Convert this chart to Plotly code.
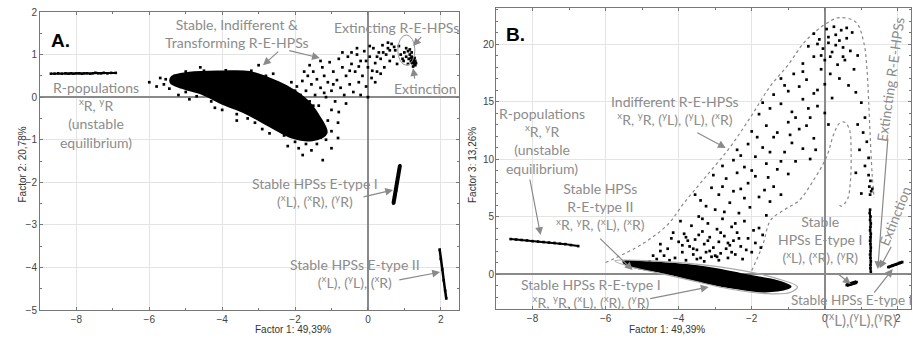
import plotly.graph_objects as go

# ---------------- Panel A data (Factor 1 vs Factor 2) ----------------
a_rpop_x = [-8.7, -8.6, -8.5, -8.4, -8.3, -8.22, -8.15, -8.08, -8.0, -7.92, -7.85, -7.78, -7.7,
            -7.62, -7.55, -7.48, -7.4, -7.32, -7.25, -7.15, -7.05, -6.92]
a_rpop_y = [0.55, 0.55, 0.56, 0.55, 0.56, 0.55, 0.56, 0.55, 0.56, 0.56, 0.55, 0.56, 0.56,
            0.55, 0.56, 0.57, 0.56, 0.56, 0.57, 0.56, 0.57, 0.57]

a_blob_x = [-5.37, -4.9, -4.0, -3.26, -2.63, -2.16, -1.70, -1.34, -1.15, -1.53, -2.08, -2.63,
            -3.34, -4.0, -4.55, -5.1, -5.4]
a_blob_y = [0.47, 0.56, 0.59, 0.58, 0.40, 0.21, -0.07, -0.47, -0.84, -1.0, -0.94, -0.70,
            -0.37, -0.14, 0.09, 0.23, 0.35]

a_edge = [(-5.55, 0.42), (-5.45, 0.2), (-5.3, 0.5), (-5.6, 0.3), (-5.0, 0.6), (-4.5, 0.62),
          (-3.9, 0.63), (-3.2, 0.62), (-2.8, 0.5), (-2.0, 0.15), (-1.5, -0.2), (-1.1, -0.55),
          (-1.0, -0.8), (-1.15, -1.0), (-1.4, -1.1), (-1.7, -1.1), (-2.0, -1.05), (-2.3, -0.9),
          (-2.7, -0.85), (-3.1, -0.6), (-3.6, -0.4), (-4.0, -0.3), (-4.3, -0.1), (-4.7, 0.02),
          (-5.0, 0.12), (-6.0, 0.35), (-5.8, 0.25), (-1.79, -1.36), (-1.24, -1.48),
          (-0.82, -0.96), (-0.82, -0.6), (-2.2, -1.15), (-1.55, -1.25), (-3.6, -0.55),
          (-1.0, -1.2), (-2.6, 0.55), (-4.6, 0.7), (-5.7, 0.45), (-3.0, 0.75), (-4.2, -0.25),
          (-3.3, -0.5), (-2.9, -0.75), (-1.9, -1.2), (-1.3, -0.95), (-5.2, 0.05), (-4.9, -0.05)]

a_cloud = [(-1.95, 0.25), (-1.85, 0.05), (-1.8, 0.38), (-1.7, 0.15), (-1.65, 0.5), (-1.6, -0.1),
           (-1.55, 0.3), (-1.5, 0.6), (-1.45, 0.05), (-1.4, 0.42), (-1.35, -0.2), (-1.3, 0.22),
           (-1.25, 0.7), (-1.2, 0.5), (-1.15, 0.0), (-1.1, 0.35), (-1.05, 0.82), (-1.0, 0.15),
           (-0.95, 0.6), (-0.9, -0.1), (-0.85, 0.4), (-0.8, 0.9), (-0.75, 0.22), (-0.7, 0.7),
           (-0.65, 0.05), (-0.6, 0.5), (-0.55, 0.95), (-0.5, 0.3), (-0.45, 0.78), (-0.4, 0.12),
           (-0.35, 0.6), (-0.3, 1.0), (-0.25, 0.35), (-0.2, 0.85), (-0.15, 0.5), (-0.1, 1.08),
           (-0.05, 0.25), (0.0, 0.7), (0.05, 0.95), (0.1, 0.45), (0.15, 1.15), (0.2, 0.8),
           (0.25, 0.6), (0.3, 1.05), (0.35, 0.9), (0.4, 1.22), (0.45, 0.7), (0.5, 1.0),
           (0.55, 1.15), (0.6, 0.85), (0.65, 1.25), (0.7, 0.95), (0.75, 1.1), (0.8, 0.78),
           (0.85, 1.2), (0.9, 1.0), (-1.6, 0.75), (-1.0, -0.3), (-0.6, -0.15), (-0.2, 0.05),
           (0.2, 0.35), (-2.1, 0.35), (-0.45, 1.05), (0.05, 1.2), (0.55, 1.28), (-1.3, 0.85),
           (-0.7, 1.05), (-0.8, -0.35), (0.0, 0.0), (0.95, 0.9), (-0.3, 1.15), (0.35, 0.55),
           (-0.05, 0.85), (0.6, 1.1), (0.25, 0.95), (-1.75, 0.6), (-1.2, 0.1), (-0.95, 0.3),
           (-0.5, 0.62), (0.12, 0.62), (0.42, 1.05), (0.72, 1.18), (-0.25, 0.72)]

a_ext = [(1.0, 1.05), (1.05, 0.95), (1.1, 1.08), (1.12, 0.9), (1.15, 1.0), (1.18, 0.85),
         (1.2, 0.95), (1.22, 0.8), (1.25, 0.9), (1.27, 0.82), (1.28, 0.78), (1.3, 0.85),
         (1.32, 0.8), (1.2, 1.05), (1.1, 0.78), (1.24, 0.72), (1.15, 1.12), (1.05, 1.15),
         (0.98, 0.85), (1.3, 0.75), (1.26, 0.86), (1.22, 0.88), (1.18, 0.92), (1.28, 0.92),
         (1.2, 0.82)]

a_e1_x = [0.88, 0.86, 0.84, 0.82, 0.80, 0.79, 0.77, 0.75, 0.73, 0.70]
a_e1_y = [-1.6, -1.7, -1.8, -1.9, -2.0, -2.1, -2.2, -2.3, -2.4, -2.5]
a_e2_x = [1.97, 2.0, 2.04, 2.08, 2.12, 2.15]
a_e2_y = [-3.58, -3.8, -4.05, -4.3, -4.55, -4.73]

# ---------------- Panel B data (Factor 1 vs Factor 3) ----------------
b_rpop_x = [-8.6, -8.45, -8.3, -8.15, -8.0, -7.85, -7.7, -7.55, -7.4, -7.25, -7.1, -6.95, -6.75]
b_rpop_y = [3.04, 3.0, 2.96, 2.92, 2.86, 2.82, 2.78, 2.74, 2.7, 2.64, 2.6, 2.52, 2.43]

b_blob_x = [-5.5, -5.0, -4.4, -3.65, -3.0, -2.29, -1.8, -1.37, -0.95, -1.3, -1.83, -2.5,
            -3.19, -3.8, -4.36, -5.28]
b_blob_y = [1.05, 1.0, 0.9, 0.7, 0.4, -0.05, -0.35, -0.6, -1.1, -1.4, -1.45, -1.15,
            -0.75, -0.3, 0.15, 0.7]

b_contour_x = [-5.75, -4.5, -3.2, -2.0, -1.3, -0.75, -0.95, -1.6, -2.6, -3.6, -4.5, -5.4, -5.75]
b_contour_y = [1.15, 1.1, 0.75, 0.15, -0.4, -1.1, -1.6, -1.7, -1.3, -0.6, 0.05, 0.7, 1.15]

b_cloud = [(-4.6, 1.3), (-4.4, 1.6), (-4.3, 2.2), (-4.1, 1.4), (-4.0, 2.8), (-3.9, 1.9),
           (-3.85, 3.5), (-3.8, 1.2), (-3.7, 2.4), (-3.65, 4.2), (-3.6, 1.7), (-3.55, 3.0),
           (-3.5, 2.1), (-3.45, 5.0), (-3.4, 1.4), (-3.35, 3.7), (-3.3, 2.6), (-3.25, 1.9),
           (-3.2, 4.4), (-3.15, 3.2), (-3.1, 1.5), (-3.05, 2.3), (-3.0, 5.6), (-2.95, 3.9),
           (-2.9, 2.8), (-2.85, 1.8), (-2.8, 4.8), (-2.75, 3.3), (-2.7, 2.2), (-2.65, 1.4),
           (-2.6, 6.2), (-2.55, 4.1), (-2.5, 2.9), (-2.45, 1.7), (-2.4, 3.6), (-2.35, 5.3),
           (-2.3, 2.4), (-2.25, 1.3), (-2.2, 4.6), (-2.1, 3.1), (-2.0, 1.9), (-1.9, 2.7),
           (-1.8, 4.0), (-1.7, 3.4), (-1.6, 5.1), (-3.75, 2.9), (-3.3, 1.1), (-2.9, 1.2),
           (-3.9, 2.5), (-4.2, 3.1), (-2.2, 6.6), (-3.4, 6.4), (-2.9, 6.9), (-3.1, 7.5),
           (-2.5, 7.2), (-2.1, 7.9), (-1.8, 6.7), (-1.5, 6.3), (-2.7, 8.3), (-3.05, 8.6),
           (-2.4, 8.8), (-1.9, 8.5), (-1.4, 7.6), (-1.2, 6.9), (-3.5, 1.3), (-3.0, 1.6),
           (-2.6, 2.5), (-3.2, 2.9), (-4.8, 1.1), (-4.5, 2.0), (-2.8, 9.4), (-2.5, 9.9),
           (-2.2, 9.3), (-1.9, 10.2), (-1.6, 9.6), (-1.3, 9.1), (-1.0, 8.7), (-0.8, 9.8),
           (-2.4, 10.8), (-2.1, 11.3), (-1.7, 11.0), (-1.4, 11.9), (-1.1, 10.6), (-0.9, 11.4),
           (-0.6, 10.9), (-0.4, 10.0), (-2.0, 12.4), (-1.6, 12.9), (-1.3, 12.3), (-1.0, 13.2),
           (-0.7, 12.6), (-0.3, 11.8), (-1.8, 13.9), (-1.5, 14.4), (-1.2, 14.8), (-0.9, 14.1),
           (-0.6, 15.2), (-0.4, 13.6), (-0.2, 14.6), (-1.4, 15.6), (-1.0, 15.9), (-0.7, 16.3),
           (-0.3, 15.7), (0.0, 16.5), (-1.2, 17.0), (-0.85, 17.4), (-0.5, 16.9), (-0.1, 17.8),
           (0.2, 15.3), (0.1, 13.0), (-0.6, 18.3), (-0.3, 18.9), (0.0, 18.6), (0.2, 19.3),
           (0.35, 18.2), (0.5, 19.7), (-0.45, 19.8), (-0.15, 20.4), (0.1, 20.1), (0.3, 20.8),
           (0.45, 21.2), (0.6, 20.5), (0.75, 21.0), (-0.3, 20.9), (0.05, 21.3), (0.25, 21.5),
           (0.55, 18.6), (0.7, 19.4), (0.8, 17.8), (0.9, 19.0), (0.15, 17.4), (-0.05, 19.6),
           (0.4, 17.0), (0.65, 16.4), (0.85, 15.8), (1.0, 14.9), (1.1, 13.6), (0.9, 13.0),
           (1.05, 12.3), (1.15, 11.5), (0.95, 10.8), (1.2, 10.1), (1.1, 9.4), (0.85, 8.8),
           (1.2, 8.6), (1.25, 8.1), (1.22, 7.6), (1.27, 7.2), (1.24, 6.9), (1.3, 7.4), (1.0, 7.0),
           (-4.7, 1.6), (-4.5, 2.6), (-4.25, 1.2), (-4.15, 3.6), (-3.95, 4.6), (-3.8, 3.2),
           (-3.6, 2.2), (-3.45, 3.4), (-3.35, 4.8), (-3.25, 5.9), (-3.15, 2.0), (-2.95, 1.5),
           (-2.85, 3.6), (-2.75, 5.4), (-2.65, 2.7), (-2.55, 1.9), (-2.45, 4.4), (-2.35, 3.1),
           (-2.15, 2.1), (-2.05, 5.8), (-1.95, 3.8), (-1.75, 2.3), (-3.55, 6.9), (-2.8, 7.6),
           (-2.3, 7.4), (-1.65, 7.3), (-2.0, 9.0), (-1.55, 8.4), (-2.3, 10.3), (-1.85, 11.9),
           (-1.5, 10.6), (-1.2, 9.8), (-0.95, 12.1), (-0.5, 12.9), (-0.25, 10.8), (-1.7, 14.9),
           (-0.8, 13.6), (-0.45, 14.4), (-1.1, 16.4), (-0.2, 16.0), (0.0, 14.0), (-0.6, 17.6),
           (-0.1, 19.0), (0.15, 18.9), (0.3, 19.9), (0.4, 20.3), (-0.2, 20.0), (0.6, 21.4),
           (0.1, 20.6), (0.5, 18.9)]

b_strip_x = [1.24, 1.23, 1.25, 1.24, 1.26, 1.25, 1.24, 1.26, 1.25, 1.24, 1.25, 1.26, 1.25,
             1.24, 1.25, 1.26, 1.25, 1.25, 1.26]
b_strip_y = [5.6, 5.3, 5.0, 4.7, 4.4, 4.1, 3.8, 3.5, 3.2, 2.9, 2.6, 2.3, 2.0, 1.7, 1.4, 1.1,
             0.8, 0.5, 0.2]

b_e1_x = [0.6, 0.7, 0.8, 0.87]
b_e1_y = [-0.96, -0.87, -0.78, -0.7]
b_e2_x = [1.74, 1.85, 1.95, 2.05, 2.12]
b_e2_y = [0.6, 0.72, 0.85, 0.97, 1.04]

b_outer_x = [-6.0, -5.0, -4.3, -3.85, -3.3, -2.6, -2.0, -1.5, -1.0, -0.6, -0.25, 0.1, 0.4,
             0.85, 1.07, 1.15, 1.2, 1.25, 1.3, 1.35]
b_outer_y = [1.0, 2.6, 4.3, 6.2, 8.3, 11.0, 13.8, 16.3, 18.2, 20.0, 21.1, 21.9, 22.3,
             21.9, 20.1, 18.0, 15.1, 11.5, 8.5, 6.6]
b_inner_x = [-2.0, -1.7, -1.48, -1.1, -0.7, -0.3, 0.05, 0.25, 0.4, 0.55, 0.68, 0.72, 0.7,
             0.62, 0.45, 0.38]
b_inner_y = [0.3, 2.5, 4.7, 5.6, 6.4, 8.2, 10.2, 12.2, 13.1, 13.2, 12.5, 10.5, 8.0,
             6.5, 5.9, 6.1]

# ---------------- styling ----------------
W, H = 913, 344
TXT = "#8c8c8c"
ARW = "#8a8a8a"
LBLFONT = "Lato, sans-serif"
LBLSIZE = 14
AXFONT = dict(family="Arial", size=10, color="#333")


def unz(pairs):
    return [p[0] for p in pairs], [p[1] for p in pairs]


fig = go.Figure()


def dots(x, y, xa, ya, size=2.7):
    fig.add_trace(go.Scatter(x=x, y=y, mode="markers", xaxis=xa, yaxis=ya,
                             marker=dict(color="black", size=size, symbol="square"),
                             hoverinfo="skip", showlegend=False))


def strand(x, y, xa, ya, width):
    fig.add_trace(go.Scatter(x=x, y=y, mode="lines+markers", xaxis=xa, yaxis=ya,
                             line=dict(color="black", width=width),
                             marker=dict(color="black", size=2.6, symbol="square"),
                             hoverinfo="skip", showlegend=False))


def blob(x, y, xa, ya):
    fig.add_trace(go.Scatter(x=x + x[:1], y=y + y[:1], mode="lines", fill="toself",
                             fillcolor="black", xaxis=xa, yaxis=ya,
                             line=dict(color="black", width=3, shape="spline"),
                             hoverinfo="skip", showlegend=False))


# Panel A
strand(a_rpop_x, a_rpop_y, "x", "y", 2)
blob(a_blob_x, a_blob_y, "x", "y")
dots(*unz(a_edge), "x", "y")
dots(*unz(a_cloud), "x", "y")
dots(*unz(a_ext), "x", "y")
strand(a_e1_x, a_e1_y, "x", "y", 4)
strand(a_e2_x, a_e2_y, "x", "y", 2.5)

# Panel B
for ox, oy in ((b_outer_x, b_outer_y), (b_inner_x, b_inner_y)):
    fig.add_trace(go.Scatter(x=ox, y=oy, mode="lines", xaxis="x2", yaxis="y2",
                             line=dict(color="#888", width=1.2, dash="dot", shape="spline"),
                             hoverinfo="skip", showlegend=False))
strand(b_rpop_x, b_rpop_y, "x2", "y2", 2)
dots(*unz(b_cloud), "x2", "y2")
blob(b_blob_x, b_blob_y, "x2", "y2")
fig.add_trace(go.Scatter(x=b_contour_x, y=b_contour_y, mode="lines", xaxis="x2", yaxis="y2",
                         line=dict(color="#aaaaaa", width=1.2, shape="spline"),
                         hoverinfo="skip", showlegend=False))
strand(b_strip_x, b_strip_y, "x2", "y2", 2)
strand(b_e1_x, b_e1_y, "x2", "y2", 4)
strand(b_e2_x, b_e2_y, "x2", "y2", 3)

axis_common = dict(showgrid=True, gridcolor="#e4e4e4", gridwidth=1,
                   zeroline=True, zerolinecolor="#8a8a8a", zerolinewidth=1.5,
                   showline=True, linecolor="#777", linewidth=1, mirror="allticks",
                   ticks="inside", ticklen=3, tickcolor="#777",
                   tickfont=dict(family="Arial", size=10, color="#444"),
                   automargin=False)
minor = dict(ticks="inside", ticklen=2, tickcolor="#777")

fig.update_layout(
    width=W, height=H, margin=dict(l=0, r=0, t=0, b=0),
    paper_bgcolor="white", plot_bgcolor="white", showlegend=False,
    xaxis=dict(axis_common, domain=[40 / W, 459 / W], range=[-9.0, 2.5], dtick=2, tick0=0,
               anchor="y", minor=dict(minor, dtick=1), ticklabelstandoff=0),
    yaxis=dict(axis_common, domain=[34 / H, 332 / H], range=[-5, 2], dtick=1, tick0=0,
               anchor="x", minor=dict(minor, dtick=0.5), ticklabelstandoff=0),
    xaxis2=dict(axis_common, domain=[496 / W, 911 / W], range=[-9.0, 2.36], dtick=2, tick0=0,
                anchor="y2", minor=dict(minor, dtick=1), ticklabelstandoff=0),
    yaxis2=dict(axis_common, domain=[35 / H, 336 / H], range=[-3.04, 23.13], dtick=5, tick0=0,
                anchor="x2", minor=dict(minor, dtick=1), ticklabelstandoff=-1),
)

# axis titles
fig.add_annotation(text="Factor 1: 49,39%", x=253 / W, y=(H - 337) / H, xref="paper", yref="paper",
                   showarrow=False, font=AXFONT)
fig.add_annotation(text="Factor 1: 49,39%", x=707 / W, y=(H - 337) / H, xref="paper", yref="paper",
                   showarrow=False, font=AXFONT)
fig.add_annotation(text="Factor 2: 20,78%", x=14 / W, y=(H - 165) / H, xref="paper", yref="paper",
                   showarrow=False, textangle=-90, font=AXFONT)
fig.add_annotation(text="Factor 3: 13,26%", x=472 / W, y=(H - 165) / H, xref="paper", yref="paper",
                   showarrow=False, textangle=-90, font=AXFONT)

# ring around extinction cluster in panel A
fig.add_shape(type="circle", xref="x", yref="y", x0=0.82, x1=1.29, y0=0.75, y1=1.46,
              line=dict(color="#999", width=1))


def label(text, x, y, xr, yr, size=LBLSIZE, angle=0, xanchor="center"):
    fig.add_annotation(text=text, x=x, y=y, xref=xr, yref=yr, showarrow=False,
                       textangle=angle, xanchor=xanchor, yanchor="middle",
                       font=dict(family=LBLFONT, size=size, color=TXT))


def arrow(hx, hy, tx, ty, xr, yr):
    fig.add_annotation(text="", x=hx, y=hy, ax=tx, ay=ty, xref=xr, yref=yr,
                       axref=xr, ayref=yr, showarrow=True, arrowhead=2, arrowsize=1.3,
                       arrowwidth=1.2, arrowcolor=ARW)


# Panel A labels
fig.add_annotation(text="<b>A.</b>", x=-8.74, y=1.34, xref="x", yref="y", showarrow=False,
                   xanchor="left", font=dict(family="Arial", size=19, color="black"))
label("Stable, Indifferent &amp;<br>Transforming R-E-HPSs", -3.6, 1.5, "x", "y")
arrow(-2.88, 0.75, -2.42, 1.10, "x", "y")
arrow(-1.32, 0.92, -2.2, 1.10, "x", "y")
label("Extincting R-E-HPSs", 0.78, 1.64, "x", "y")
arrow(1.24, 1.2, 1.5, 1.45, "x", "y")
label("Extinction", 1.59, 0.21, "x", "y")
arrow(1.24, 0.68, 1.29, 0.4, "x", "y")
label("R-populations<br><sup>x</sup>R, <sup>y</sup>R<br>(unstable<br>equilibrium)", -7.45, -0.43, "x", "y")
label("Stable HPSs E-type I<br>(<sup>x</sup>L), (<sup>x</sup>R), (<sup>y</sup>R)", -1.46, -2.25, "x", "y")
arrow(0.69, -2.18, -0.16, -2.35, "x", "y")
label("Stable HPSs E-type II<br>(<sup>x</sup>L), (<sup>y</sup>L), (<sup>x</sup>R)", -0.36, -4.15, "x", "y")
arrow(1.98, -4.11, 0.82, -4.3, "x", "y")

# Panel B labels
fig.add_annotation(text="<b>B.</b>", x=-8.77, y=20.8, xref="x2", yref="y2", showarrow=False,
                   xanchor="left", font=dict(family="Arial", size=19, color="black"))
label("R-populations<br><sup>x</sup>R, <sup>y</sup>R<br>(unstable<br>equilibrium)", -7.75, 11.6, "x2", "y2")
arrow(-7.78, 3.39, -8.08, 8.35, "x2", "y2")
label("Indifferent R-E-HPSs<br><sup>x</sup>R, <sup>y</sup>R, (<sup>y</sup>L), (<sup>y</sup>L), (<sup>x</sup>R)", -4.11, 14.26, "x2", "y2")
arrow(-2.71, 10.96, -3.53, 12.35, "x2", "y2")
label("Stable HPSs<br>R-E-type II<br><sup>x</sup>R, <sup>y</sup>R, (<sup>x</sup>L), (<sup>x</sup>R)", -6.14, 5.83, "x2", "y2")
arrow(-5.26, 0.35, -6.19, 3.2, "x2", "y2")
label("Stable HPSs R-E-type I<br><sup>x</sup>R, <sup>y</sup>R, (<sup>x</sup>L), (<sup>x</sup>R), (<sup>y</sup>R)", -6.41, -1.65, "x2", "y2")
arrow(-3.18, -1.13, -4.82, -2.17, "x2", "y2")
label("Stable<br>HPSs E-type I<br>(<sup>x</sup>L), (<sup>x</sup>R), (<sup>y</sup>R)", -0.14, 3.04, "x2", "y2")
arrow(0.71, -0.87, 0.3, 0.17, "x2", "y2")
label("Stable HPSs E-type II", -0.98, -2.26, "x2", "y2", size=13.5, xanchor="left")
label("(<sup>x</sup>L),(<sup>y</sup>L),(<sup>y</sup>R)", 0.98, (H - 319) / H, "x2", "paper", size=15)
arrow(1.86, 0.43, 1.32, -1.74, "x2", "y2")
label("Extincting R-E-HPSs", 1.8, 16.9, "x2", "y2", angle=-82)
arrow(1.45, 0.43, 1.73, 11.9, "x2", "y2")
label("Extinction", 1.92, 5.1, "x2", "y2", angle=-68)
arrow(1.5, 0.5, 1.84, 2.5, "x2", "y2")

# remove the default page margin so the figure sits at the window's top-left corner
fig.write_html("out.html", config={"displayModeBar": False},
               post_script="document.body.style.margin='0px';document.body.style.overflow='hidden';")
